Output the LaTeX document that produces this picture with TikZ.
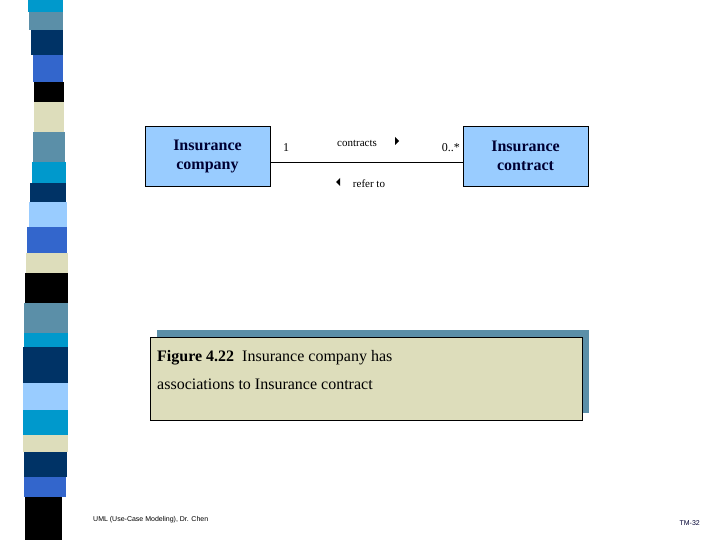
\documentclass[tikz,border=0pt]{standalone}
\usepackage{fontspec}
\setmainfont{Liberation Serif}
\setsansfont{Liberation Sans}
\begin{document}
\begin{tikzpicture}[x=1pt,y=-1pt,
  cls/.style={draw=black,fill=clsfill,text=navytext,font=\bfseries\fontsize{16}{19}\selectfont,align=center,minimum width=125pt,minimum height=60pt,inner sep=0pt},
  lbl/.style={font=\fontsize{12}{14}\selectfont,inner sep=0pt}]
\definecolor{clsfill}{HTML}{99CCFF}
\definecolor{navytext}{HTML}{000033}
\definecolor{cCy}{HTML}{0099CC}
\definecolor{cSt}{HTML}{5B8FA8}
\definecolor{cNv}{HTML}{003366}
\definecolor{cRy}{HTML}{3366CC}
\definecolor{cBk}{HTML}{000000}
\definecolor{cBg}{HTML}{DDDDBB}
\definecolor{cLt}{HTML}{99CCFF}
\definecolor{capfill}{HTML}{DDDDBB}
\definecolor{capshadow}{HTML}{5B8FA8}
\useasboundingbox (0,0) rectangle (720,540);
\fill[white] (0,0) rectangle (720,540);
% stripe
\foreach \a/\b/\l/\r/\c in {0/12/28/63/cCy,12/30/29/63/cSt,30/55/31/63/cNv,55/82/33/63/cRy,82/102/34/64/cBk,102/132/34/64/cBg,132/162/33/65/cSt,162/183/32/66/cCy,183/202/30/66/cNv,202/227/29/67/cLt,227/253/27/67/cRy,253/273/26/68/cBg,273/303/25/68/cBk,303/333/24/68/cSt,333/347/24/68/cCy,347/383/23/68/cNv,383/410/23/68/cLt,410/435/23/68/cCy,435/452/23/68/cBg,452/477/24/67/cNv,477/497/24/66/cRy,497/540/25/62/cBk}
  \fill[\c] (\l,\a) rectangle (\r,\b);
\node[cls] (ic) at (207.5,156) {Insurance\\company};
\node[cls] (ct) at (525.5,156) {Insurance\\contract};
\draw (ic.east |- 0,162) coordinate (la) -- (ct.west |- 0,162) coordinate (lb);
\node[lbl,anchor=west] (m1) at (283,148) {1};
\node[lbl,anchor=east] (m2) at (460,148) {0..*};
\node[font=\fontsize{11}{13}\selectfont,inner sep=0pt] (c1) at (357,143) {contracts};
\fill (395,137) -- (395,145) -- (399,141) -- cycle;
\node[font=\fontsize{11}{13}\selectfont,inner sep=0pt] (c2) at (369,184) {refer to};
\fill (340,178) -- (340,186) -- (336,182) -- cycle;
% caption
\fill[capshadow] (157,330) rectangle (589,413);
\fill[capfill] (150,337) rectangle (582,420);
\draw (150,337) rectangle (582,420);
\node[anchor=north west,align=left,font=\fontsize{16}{28}\selectfont,inner sep=0pt] (cap) at (157,350) {\textbf{Figure 4.22}\ \ Insurance company has\\associations to Insurance contract};
\node[anchor=west,font=\sffamily\fontsize{7}{8}\selectfont,inner sep=0pt] (ft) at (93,520) {UML (Use-Case Modeling), Dr. Chen};
\node[anchor=east,font=\sffamily\fontsize{7}{8}\selectfont,text=navytext,inner sep=0pt] (tm) at (700,523) {TM-32};
\end{tikzpicture}
\end{document}
